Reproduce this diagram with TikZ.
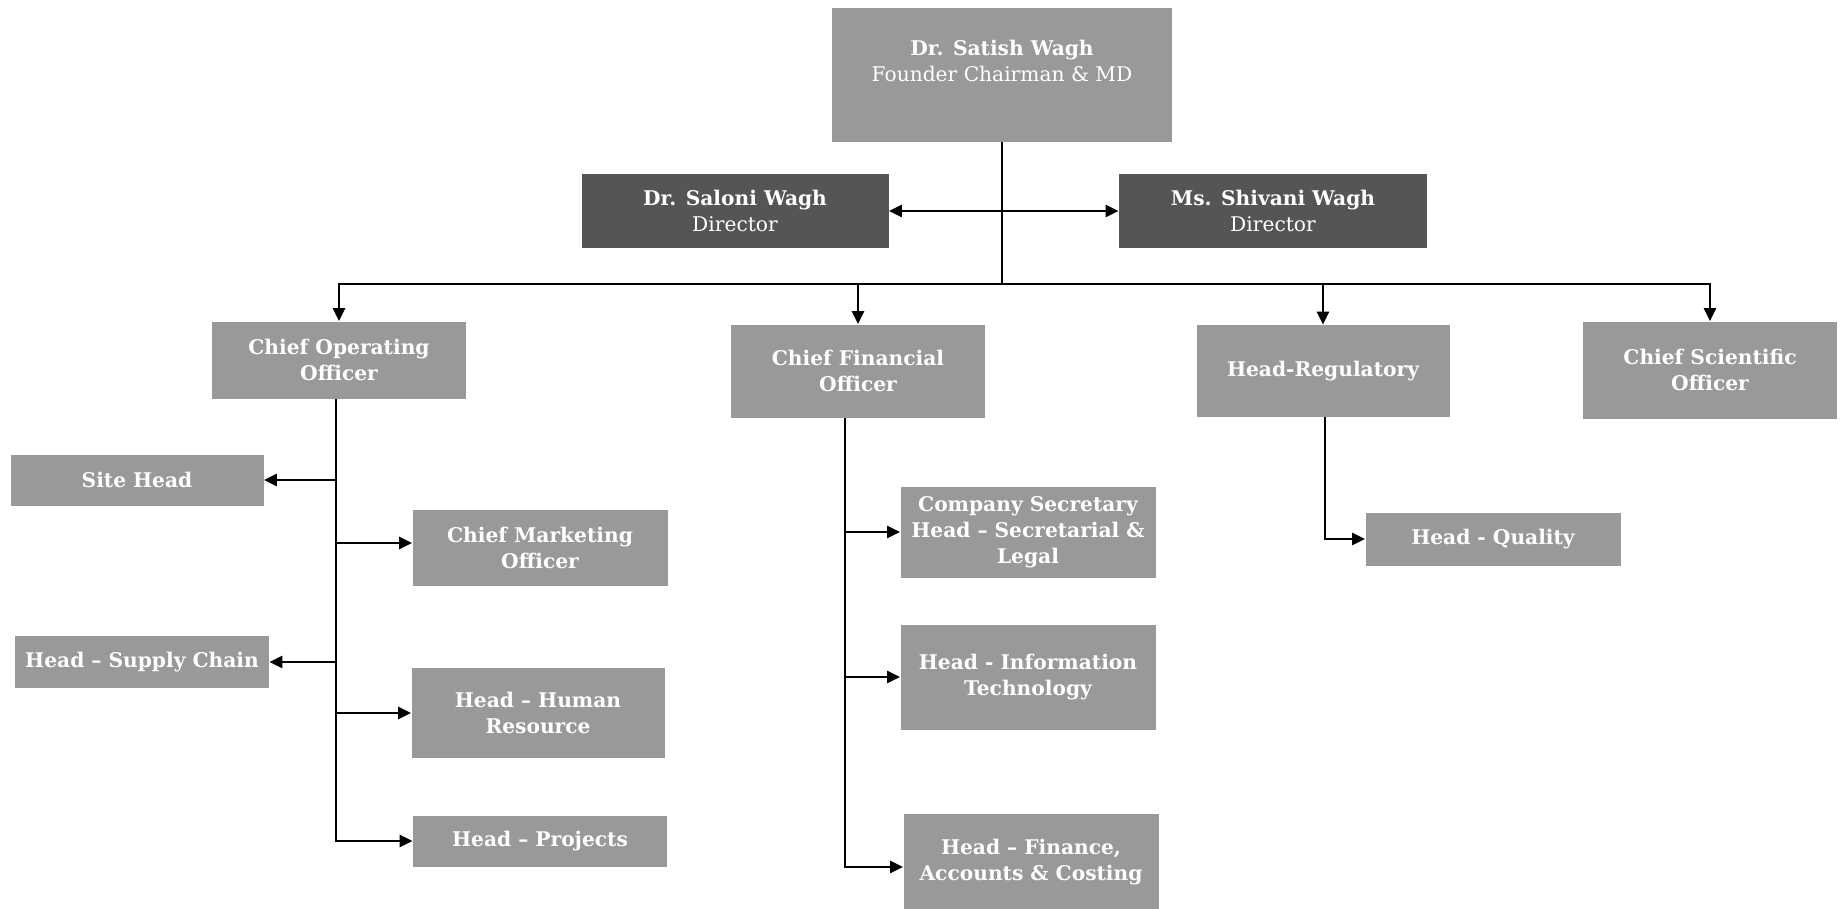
\documentclass[tikz,border=0pt]{standalone}
\usepackage{fontspec}
\setmainfont{DejaVu Serif}
\usetikzlibrary{arrows.meta}
\definecolor{boxg}{HTML}{999999}
\definecolor{boxd}{HTML}{555555}
\tikzset{
  unit/.style={fill=boxg, text=white, font=\fontsize{11.5}{14.8}\selectfont\bfseries, align=center, inner sep=0pt},
  dir/.style={unit, fill=boxd},
  lab/.style={unit, fill=none},
  sz/.style 2 args={minimum width=#1*0.02cm, minimum height=#2*0.02cm},
  arr/.style={-{Triangle[length=2.6mm, width=2.4mm]}, line width=1.4pt},
  link/.style={line width=1.4pt},
}

\begin{document}
\begin{tikzpicture}[x=0.02cm,y=-0.02cm]
\useasboundingbox (0,0) rectangle (1840,909);

% ---- top ----
\node[unit, sz={340}{134}] (md) at (1002,75) {};
\node[lab] (mdlab) at (1002,61) {Dr. Satish Wagh\\{\mdseries Founder Chairman \& MD}};
\node[dir, sz={307}{74}] (saloni) at (735,211) {Dr. Saloni Wagh\\{\mdseries Director}};
\node[dir, sz={308}{74}] (shivani) at (1273,211) {Ms. Shivani Wagh\\{\mdseries Director}};

% ---- second level ----
\node[unit, sz={254}{77}] (coo) at (339,360) {Chief Operating\\Officer};
\node[unit, sz={254}{93}] (cfo) at (858,371) {Chief Financial\\Officer};
\node[unit, sz={253}{92}] (reg) at (1323,371) {Head-Regulatory};
\node[unit, sz={254}{97}] (cso) at (1710,370) {Chief Scientific\\Officer};

% ---- under COO ----
\node[unit, sz={253}{51}] (site) at (137,480) {Site Head};
\node[unit, sz={255}{76}] (cmo) at (540,548) {Chief Marketing\\Officer};
\node[unit, sz={254}{52}] (supply) at (142,662) {Head -- Supply Chain};
\node[unit, sz={253}{90}] (hr) at (538,713) {Head -- Human\\Resource};
\node[unit, sz={254}{51}] (proj) at (540,841) {Head -- Projects};

% ---- under CFO ----
\node[unit, sz={255}{91}] (cs) at (1028,532) {Company Secretary\\Head -- Secretarial \&\\Legal};
\node[unit, sz={255}{105}] (it) at (1028,677) {Head - Information\\Technology};
\node[unit, sz={255}{97}] (fin) at (1031,862) {Head -- Finance,\\Accounts \& Costing};

% ---- under regulatory ----
\node[unit, sz={255}{53}] (qual) at (1493,539) {Head - Quality};

% ---- connectors ----
\coordinate (bus) at (1002,284);
\coordinate (dirmid) at (1002,211);
\coordinate (cooT) at (336,399);
\coordinate (cfoT) at (845,418);
\coordinate (regT) at (1325,417);

\draw[link] (md.south) -- (bus);
\draw[arr] (dirmid) -- (saloni);
\draw[arr] (dirmid) -- (shivani);
\draw[arr] (bus) -| (coo);
\draw[arr] (bus) -| (cfo);
\draw[arr] (bus) -| (reg);
\draw[arr] (bus) -| (cso);

\draw[arr] (cooT) |- (site);
\draw[arr] (cooT) |- ([yshift=0.1cm]cmo.west);
\draw[arr] (cooT) |- (supply);
\draw[arr] (cooT) |- (hr);
\draw[arr] (cooT) |- (proj);

\draw[arr] (cfoT) |- (cs);
\draw[arr] (cfoT) |- (it);
\draw[arr] (cfoT) |- ([yshift=-0.1cm]fin.west);

\draw[arr] (regT) |- (qual);

\end{tikzpicture}
\end{document}
